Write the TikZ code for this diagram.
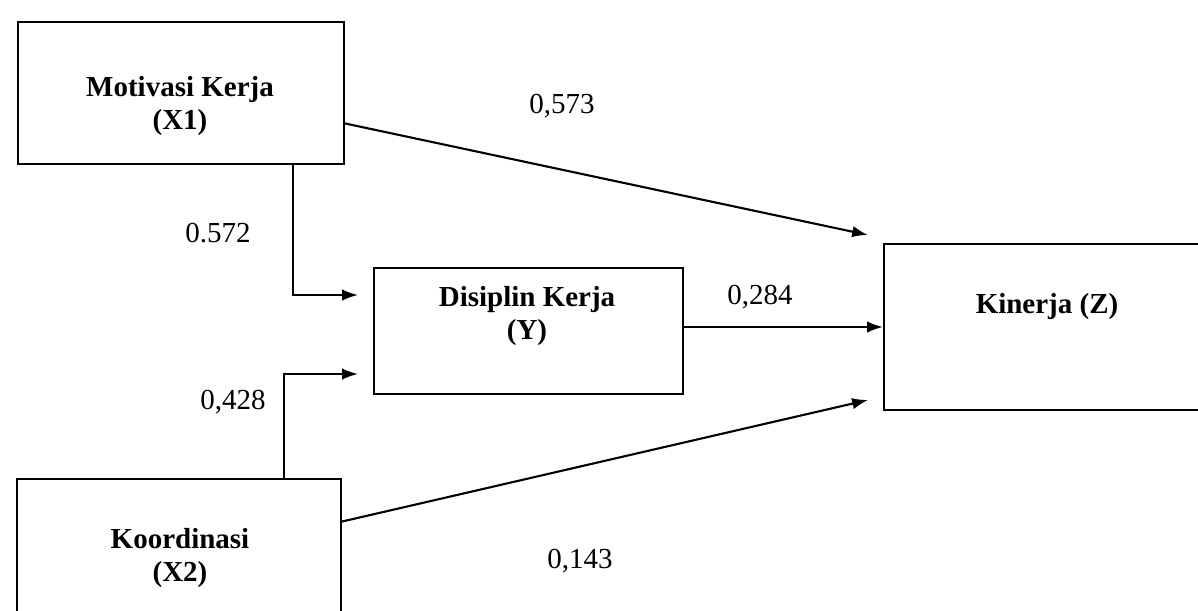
\documentclass[tikz,border=0pt]{standalone}
\usepackage{fontspec}
\setmainfont{Liberation Serif}
\usetikzlibrary{arrows.meta}
\begin{document}
\begin{tikzpicture}[x=0.02cm,y=-0.02cm,
  box/.style={draw,line width=1.2pt,rectangle,anchor=north west,inner sep=0pt},
  lbl/.style={font=\fontsize{16.5}{19}\selectfont\bfseries,align=center,inner sep=0pt},
  num/.style={font=\fontsize{16.5}{19}\selectfont,inner sep=0pt},
  conn/.style={line width=1.2pt,-{Latex[length=9pt,width=6.5pt]}}]
\useasboundingbox (0,0) rectangle (1198,610);
\clip (0,0) rectangle (1198,610);
% boxes
\node[box,minimum width=326*0.02cm,minimum height=142*0.02cm] (x1) at (17,21) {};
\node[box,minimum width=309*0.02cm,minimum height=126*0.02cm] (y) at (373,267) {};
\node[box,minimum width=340*0.02cm,minimum height=166*0.02cm] (z) at (883,243) {};
\node[box,minimum width=324*0.02cm,minimum height=160*0.02cm] (x2) at (16,478) {};
% box labels
\node[lbl] (tx1) at (180,106) {Motivasi Kerja\\(X1)};
\node[lbl] (ty) at (527,316) {Disiplin Kerja\\(Y)};
\node[lbl] (tz) at (1047,307) {Kinerja (Z)};
\node[lbl] (tx2) at (180,558) {Koordinasi\\(X2)};
% coordinates
\coordinate (a1s) at (343,123);
\coordinate (a1e) at (868,235);
\coordinate (b1s) at (293,163);
\coordinate (b1m) at (293,295);
\coordinate (b1e) at (358,295);
\coordinate (c1s) at (284,478);
\coordinate (c1m) at (284,374);
\coordinate (c1e) at (358,374);
\coordinate (d1s) at (682,327);
\coordinate (d1e) at (883,327);
\coordinate (e1s) at (340,522);
\coordinate (e1e) at (868,400);
% connectors
\draw[conn] (a1s) -- (a1e);
\draw[conn] (b1s) -- (b1m) -- (b1e);
\draw[conn] (c1s) -- (c1m) -- (c1e);
\draw[conn] (d1s) -- (d1e);
\draw[conn] (e1s) -- (e1e);
% numbers
\node[num] (n573) at (562,106) {0,573};
\node[num] (n572) at (218,233) {0.572};
\node[num] (n428) at (233,402) {0,428};
\node[num] (n284) at (760,297) {0,284};
\node[num] (n143) at (580,561) {0,143};
\end{tikzpicture}
\end{document}
